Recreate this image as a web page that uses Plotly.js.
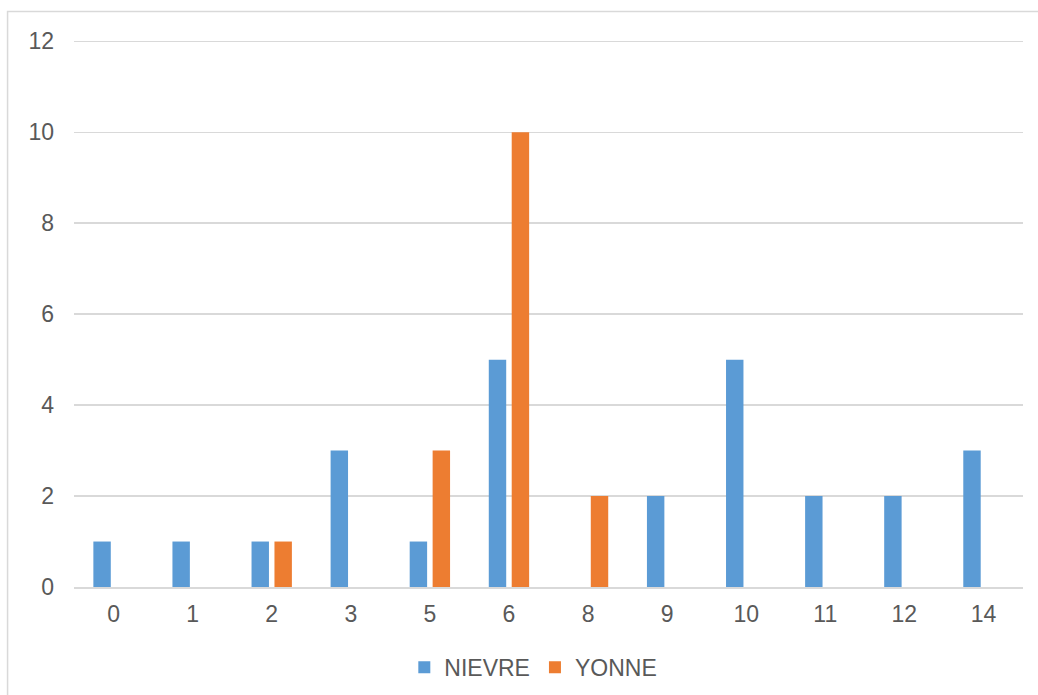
<!DOCTYPE html>
<html>
<head>
<meta charset="utf-8">
<script src="https://cdn.plot.ly/plotly-3.0.1.min.js"></script>
<style>
html,body{margin:0;padding:0;background:#fff;}
#chart{width:1038px;height:695px;}
</style>
</head>
<body>
<div id="chart"></div>
<script>
const categories = ['0','1','2','3','5','6','8','9','10','11','12','14'];
const nievre = [1,1,1,3,1,5,0,2,5,2,2,3];
const yonne  = [0,0,1,0,3,10,2,0,0,0,0,0];
const yTicks = [0,2,4,6,8,10,12];

const font = {family:'Liberation Sans, Arial, sans-serif', size:23, color:'#595959'};

const data = [
  {type:'bar', name:'NIEVRE', x:categories, y:nievre, marker:{color:'#5B9BD5'}, hoverinfo:'x+y+name'},
  {type:'bar', name:'YONNE', x:categories, y:yonne, marker:{color:'#ED7D31'}, hoverinfo:'x+y+name'}
];

const layout = {
  width:1038, height:695,
  margin:{l:74, r:15, t:40, b:108, autoexpand:false},
  paper_bgcolor:'#ffffff', plot_bgcolor:'#ffffff',
  font:font,
  barmode:'group', bargap:0.42, bargroupgap:0.24,
  showlegend:true,
  legend:{orientation:'h', x:0.484, xanchor:'center', yref:'container', y:0.04, yanchor:'middle', font:font, itemwidth:30, traceorder:'normal'},
  xaxis:{type:'category', categoryorder:'array', categoryarray:categories,
         showgrid:false, showline:true, linecolor:'#d9d9d9', linewidth:2,
         ticks:'', tickfont:font, zeroline:false, fixedrange:true, ticklabelstandoff:5},
  yaxis:{range:[0,12.03], tickvals:yTicks, ticktext:yTicks.map(String),
         showgrid:true, gridcolor:'#d9d9d9', gridwidth:1.5, zeroline:false,
         showline:false, ticks:'', tickfont:font, ticklabelstandoff:19, fixedrange:true},
  shapes:[{type:'rect', xref:'paper', yref:'paper', x0:-0.07, x1:1.05, y0:-0.25, y1:1.052,
           line:{color:'#d9d9d9', width:1.5}, fillcolor:'rgba(0,0,0,0)', layer:'below'}]
};

Plotly.newPlot('chart', data, layout, {displayModeBar:false, staticPlot:true});
</script>
</body>
</html>
